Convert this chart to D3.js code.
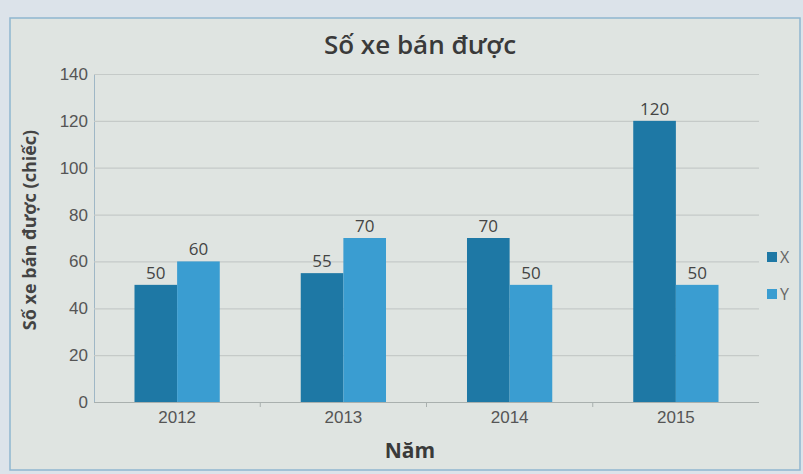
<!DOCTYPE html>
<html>
<head>
<meta charset="utf-8">
<script src="https://cdn.jsdelivr.net/npm/d3@7"></script>
<style>
  html, body { margin: 0; padding: 0; background: #dce3ea; }
  svg { display: block; font-family: "Open Sans", "Noto Sans", sans-serif; }
</style>
</head>
<body>
<svg id="chart" width="803" height="474"></svg>
<script>
// Data
var years = ["2012", "2013", "2014", "2015"];
var seriesNames = ["X", "Y"];
var valuesX = [50, 55, 70, 120];
var valuesY = [60, 70, 50, 50];
var yTicks = [0, 20, 40, 60, 80, 100, 120, 140];

var colors = { X: "#1e78a5", Y: "#3a9dd1" };

var margin = { top: 74, right: 44, bottom: 72, left: 94 },
    width = 803 - margin.left - margin.right,
    height = 474 - margin.top - margin.bottom;

var svg = d3.select("#chart");

// Chart panel background
svg.append("rect")
    .attr("x", 10).attr("y", 18)
    .attr("width", 790).attr("height", 452)
    .attr("fill", "#dfe4e1")
    .attr("stroke", "#8fb6cf")
    .attr("stroke-width", 1.5);

var g = svg.append("g")
    .attr("transform", "translate(" + margin.left + "," + margin.top + ")");

// Scales
var xScale = d3.scaleBand().domain(years).range([0, width]);
var xInner = d3.scaleBand().domain(seriesNames)
    .range([0, xScale.bandwidth()]).paddingOuter(0.95);
var yScale = d3.scaleLinear().domain([0, 140]).range([height, 0]);

// Gridlines
var yAxis = d3.axisLeft(yScale).tickValues(yTicks).tickSize(-width).tickPadding(6);
var gy = g.append("g").attr("class", "y axis").call(yAxis);
gy.select(".domain").attr("stroke", "#9fb7c6");
gy.selectAll(".tick line").attr("stroke", "#c5cac8").attr("stroke-width", 1.2);
gy.selectAll(".tick text")
    .attr("fill", "#555")
    .style("font-size", "17px");
gy.selectAll(".tick").filter(function (d) { return d === 0; }).select("line")
    .attr("stroke", "#a9b0ae");

// x axis
var xAxis = d3.axisBottom(xScale).tickSize(0).tickPadding(9);
var gx = g.append("g").attr("class", "x axis")
    .attr("transform", "translate(0," + height + ")")
    .call(xAxis);
gx.select(".domain").remove();
gx.selectAll(".tick text").attr("fill", "#555").style("font-size", "17px");
// category separators
gx.selectAll(".sep").data(years.slice(1)).enter().append("line")
    .attr("x1", function (d) { return xScale(d); })
    .attr("x2", function (d) { return xScale(d); })
    .attr("y1", 0).attr("y2", 5)
    .attr("stroke", "#a9b0ae");

// Bars
var rows = years.map(function (y, i) {
    return { year: y, values: [
        { key: "X", value: valuesX[i] },
        { key: "Y", value: valuesY[i] }
    ] };
});

var groups = g.selectAll(".year").data(rows).enter().append("g")
    .attr("class", "year")
    .attr("transform", function (d) { return "translate(" + xScale(d.year) + ",0)"; });

groups.selectAll("rect").data(function (d) { return d.values; }).enter().append("rect")
    .attr("x", function (d) { return xInner(d.key); })
    .attr("width", xInner.bandwidth())
    .attr("y", function (d) { return yScale(d.value); })
    .attr("height", function (d) { return height - yScale(d.value); })
    .attr("fill", function (d) { return colors[d.key]; });

groups.selectAll(".lbl").data(function (d) { return d.values; }).enter().append("text")
    .attr("class", "lbl")
    .attr("x", function (d) { return xInner(d.key) + xInner.bandwidth() / 2; })
    .attr("y", function (d) { return yScale(d.value) - 6; })
    .attr("text-anchor", "middle")
    .attr("fill", "#444")
    .style("font-size", "17px")
    .text(function (d) { return d.value; });

// Title
svg.append("text")
    .attr("x", 420).attr("y", 54)
    .attr("text-anchor", "middle")
    .attr("fill", "#3a3a3a")
    .style("font-size", "26px")
    .style("font-weight", "600")
    .text("Số xe bán được");

// Y axis title
svg.append("text")
    .attr("transform", "translate(36," + (margin.top + height / 2 - 8) + ") rotate(-90)")
    .attr("text-anchor", "middle")
    .attr("fill", "#444")
    .style("font-size", "18px")
    .style("font-weight", "bold")
    .text("Số xe bán được (chiếc)");

// X axis title
svg.append("text")
    .attr("x", 410).attr("y", 458)
    .attr("text-anchor", "middle")
    .attr("fill", "#3a3a3a")
    .style("font-size", "21px")
    .style("font-weight", "bold")
    .text("Năm");

// Legend
var legend = svg.selectAll(".legend").data(seriesNames).enter().append("g")
    .attr("class", "legend")
    .attr("transform", function (d, i) { return "translate(767," + (252 + i * 37) + ")"; });
legend.append("rect")
    .attr("width", 10).attr("height", 10)
    .attr("fill", function (d) { return colors[d]; });
legend.append("text")
    .attr("x", 13).attr("y", 11)
    .attr("fill", "#666")
    .style("font-size", "16px")
    .text(function (d) { return d; });
</script>
</body>
</html>
